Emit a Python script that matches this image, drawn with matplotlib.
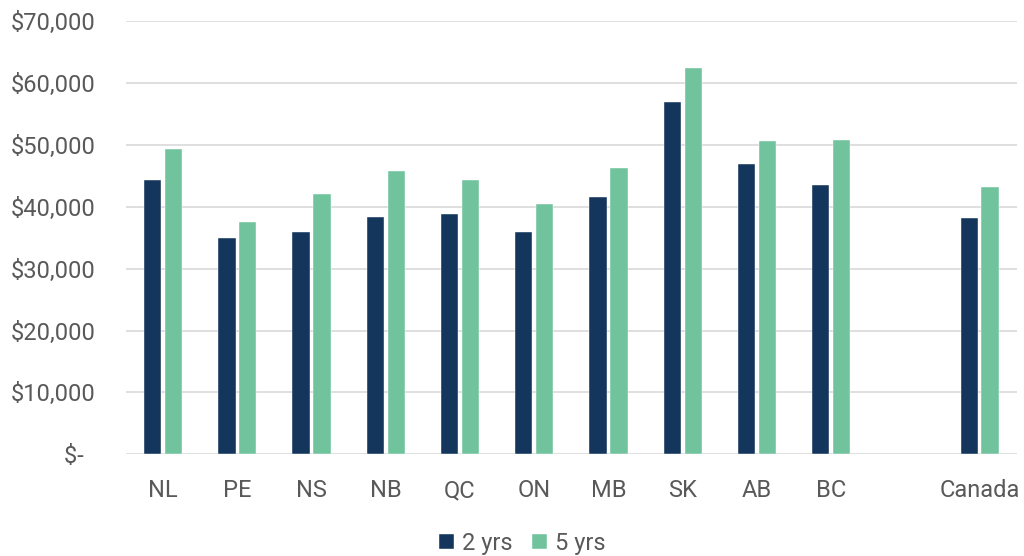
import numpy as np
import matplotlib.pyplot as plt
from matplotlib.ticker import FuncFormatter

## Categories (blank slot between BC and Canada)
provinces = ['NL', 'PE', 'NS', 'NB', 'QC', 'ON', 'MB', 'SK', 'AB', 'BC', '', 'Canada']

## Values
two_yrs = [44250, 35000, 35900, 38300, 38800, 35900, 41650, 56900, 46950, 43500, np.nan, 38150]
five_yrs = [49400, 37600, 42100, 45850, 44250, 40500, 46200, 62350, 50600, 50800, np.nan, 43250]

navy = '#14365D'
green = '#71C39D'
grey_text = '#595959'

plt.rcParams['font.family'] = ['Roboto', 'DejaVu Sans']

fig = plt.figure(figsize=(10.24, 5.56), dpi=100)
ax = fig.add_axes([0.123, 0.183, 0.870, 0.779])

x = np.arange(len(provinces))
w = 0.233
off = w / 2 + 0.024
ax.bar(x - off, two_yrs, w, color=navy, edgecolor='white', linewidth=0.3, label='2 yrs', zorder=3)
ax.bar(x + off, five_yrs, w, color=green, edgecolor='white', linewidth=0.3, label='5 yrs', zorder=3)

ax.set_xlim(-0.5, len(provinces) - 0.5)
ax.set_ylim(0, 70000)
ax.set_yticks(np.arange(0, 70001, 10000))

def money(v, pos):
    if v == 0:
        return '$-  '
    return '${:,.0f}'.format(v)

ax.yaxis.set_major_formatter(FuncFormatter(money))
ax.set_xticks(x)
ax.set_xticklabels(provinces)

ax.grid(axis='y', color='#D9D9D9', linewidth=1.2, zorder=0)
for s in ax.spines.values():
    s.set_visible(False)
ax.tick_params(axis='both', length=0, labelsize=17, colors=grey_text)
ax.tick_params(axis='y', pad=22)
ax.tick_params(axis='x', pad=18)

fig.legend(*ax.get_legend_handles_labels(), loc='center', bbox_to_anchor=(0.51, 0.023), ncol=2,
           frameon=False, fontsize=17, labelcolor=grey_text, handlelength=0.65, handleheight=0.65,
           handletextpad=0.35, columnspacing=0.8, borderpad=0)

plt.savefig('out.png', dpi=100)
